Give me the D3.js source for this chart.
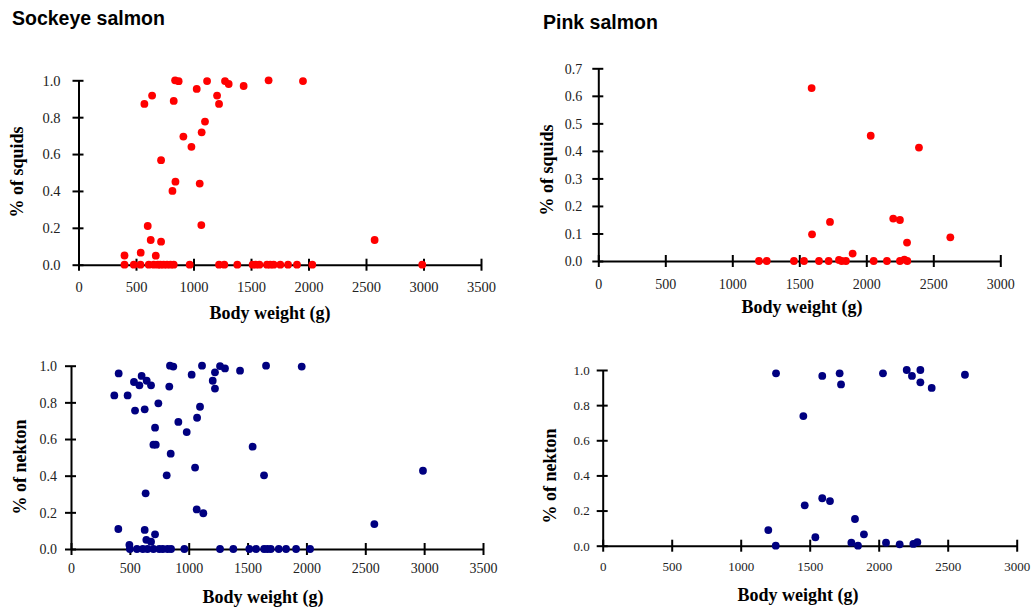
<!DOCTYPE html>
<html><head><meta charset="utf-8">
<script src="https://cdn.jsdelivr.net/npm/d3@7"></script>
<style>body{margin:0;background:#fff}svg{display:block}
.tk{font-family:'Liberation Serif','Times New Roman',serif !important;fill:#222}</style>
</head><body>
<svg id="c" width="1032" height="609"></svg>
<script>
// ---- data ----
const titles = ["Sockeye salmon", "Pink salmon"];
const yTitles = ["% of squids", "% of nekton"];
const xTitle = "Body weight (g)";

const sockeyeSquidW = [400,400,481,539,541,573,602,611,628,640,654,672,690,712,718,718,740,770,800,817,828,828,843,840,871,912,967,982,1028,1054,1068,1071,1100,1118,1205,1222,1222,1268,1274,1306,1381,1436,1514,1540,1573,1639,1653,1668,1697,1755,1822,1900,1952,2033,2575,2989];
const sockeyeSquidP = [0.05,0,0,0,0.065,0.872,0.21,0,0.134,0.917,0,0.049,0,0,0.125,0.567,0,0,0,0.40,0,0.888,0.45,1.0,0.995,0.695,0,0.639,0.953,0.44,0.215,0.718,0.776,0.996,0.917,0.872,0,0,0.996,0.98,0,0.969,0,0,0,0,1.0,0,0,0,0,0,0.996,0,0.134,0];

const sockeyeNektonW = [368,405,402,481,496,500,535,544,560,581,600,610,626,626,634,643,640,650,680,680,700,700,714,720,714,742,750,780,813,820,835,841,847,850,869,912,963,983,1025,1054,1068,1071,1096,1113,1124,1204,1223,1223,1266,1266,1308,1379,1436,1515,1543,1572,1640,1640,1657,1668,1697,1765,1827,1912,1960,2031,2577,2990];
const sockeyeNektonP = [0.838,0.958,0.109,0.838,0.023,0,0.911,0.755,0,0.893,0.944,0,0.762,0.104,0.304,0.918,0.05,0,0.893,0.04,0.569,0,0.662,0.569,0.08,0.795,0,0,0.402,0,0.886,1.0,0.52,0,0.995,0.693,0,0.638,0.951,0.444,0.216,0.716,0.776,1.0,0.195,0.918,0.875,0.964,0.998,0,0.985,0,0.973,0,0.558,0,0.402,0,1.0,0,0,0,0,0,0.995,0,0.136,0.427];

const pinkSquidW = [1199,1257,1460,1535,1592,1595,1647,1719,1729,1796,1816,1848,1898,2033,2055,2154,2201,2251,2251,2284,2306,2304,2393,2627];
const pinkSquidP = [0,0,0,0,0.628,0.097,0,0,0.142,0.004,0,0,0.027,0.455,0,0,0.154,0.149,0,0.005,0,0.067,0.412,0.086];

const pinkNektonW = [1200,1254,1256,1454,1464,1541,1591,1591,1647,1717,1727,1802,1850,1828,1893,2031,2053,2152,2203,2241,2302,2302,2251,2280,2384,2625];
const pinkNektonP = [0.089,0,0.981,0.738,0.23,0.048,0.966,0.27,0.254,0.981,0.918,0.017,0,0.152,0.065,0.981,0.017,0.008,1.0,0.966,1.0,0.93,0.01,0.02,0.898,0.973];

const xTicksSockeye = [0,500,1000,1500,2000,2500,3000,3500];
const xTicksPink = [0,500,1000,1500,2000,2500,3000];
const yTicksFull = [0,0.2,0.4,0.6,0.8,1.0];
const yTicksPinkSquid = [0,0.1,0.2,0.3,0.4,0.5,0.6,0.7];

// ---- drawing ----
const svg = d3.select("#c");
const SERIF = "'Liberation Serif','Times New Roman',serif";
const SANS = "'Liberation Sans',Arial,sans-serif";

svg.append("text").attr("x",12).attr("y",25).style("font-family",SANS).style("font-weight","bold")
  .style("font-size","19.5px").text(titles[0]);
svg.append("text").attr("x",543).attr("y",29).style("font-family",SANS).style("font-weight","bold")
  .style("font-size","19.5px").text(titles[1]);

function panel(o){
  const x = d3.scaleLinear().domain([0, o.xmax]).range([o.x0, o.x1]);
  const y = d3.scaleLinear().domain([0, o.ymax]).range([o.y0, o.y1]);
  const g = svg.append("g");

  const xa = g.append("g").attr("transform",`translate(0,${o.y0})`)
    .call(d3.axisBottom(x).tickValues(o.xticks).tickSizeOuter(0).tickFormat(d3.format("d")));
  xa.attr("font-family",null).attr("font-size",null);
  xa.select(".domain").attr("stroke","#000").attr("stroke-width",2);
  xa.selectAll(".tick line").attr("y1",-6).attr("y2",6).attr("stroke","#000").attr("stroke-width",2);
  xa.selectAll(".tick text").attr("class","tk").attr("y",o.xlabDy).attr("dy",null)
    .style("font-size",o.fs+"px");

  const ya = g.append("g").attr("transform",`translate(${o.x0},0)`)
    .call(d3.axisLeft(y).tickValues(o.yticks).tickSizeOuter(0).tickFormat(d3.format(".1f")));
  ya.attr("font-family",null).attr("font-size",null);
  ya.select(".domain").attr("stroke","#000").attr("stroke-width",2);
  ya.selectAll(".tick line").attr("x1",-6).attr("x2",5).attr("stroke","#000").attr("stroke-width",2);
  ya.selectAll(".tick text").attr("class","tk").attr("x",-o.ylabDx).attr("dy","0.34em")
    .style("font-size",o.fs+"px");

  g.append("text").attr("x",o.xtX).attr("y",o.xtY).attr("text-anchor","middle")
    .style("font-family",SERIF).style("font-weight","bold").style("font-size","18px").text(xTitle);
  g.append("text").attr("transform",`translate(${o.ytX},${o.ytY}) rotate(-90)`).attr("text-anchor","middle")
    .style("font-family",SERIF).style("font-weight","bold").style("font-size","18px").text(o.ytitle);

  g.append("g").selectAll("circle").data(o.w).join("circle")
    .attr("cx",d=>x(d)).attr("cy",(d,i)=>y(o.p[i])).attr("r",3.9).attr("fill",o.color);
}

panel({x0:78.5,x1:481,y0:264.7,y1:80.3,xmax:3500,ymax:1.0,xticks:xTicksSockeye,yticks:yTicksFull,
  w:sockeyeSquidW,p:sockeyeSquidP,color:"#ff0000",fs:14.5,xlabDy:27,ylabDx:18,
  xtX:270,xtY:319,ytX:23,ytY:172,ytitle:yTitles[0]});
panel({x0:598.3,x1:1000.3,y0:261,y1:68.3,xmax:3000,ymax:0.7,xticks:xTicksPink,yticks:yTicksPinkSquid,
  w:pinkSquidW,p:pinkSquidP,color:"#ff0000",fs:14,xlabDy:28,ylabDx:16,
  xtX:802,xtY:313,ytX:553,ytY:170,ytitle:yTitles[0]});
panel({x0:71,x1:483,y0:549,y1:365.7,xmax:3500,ymax:1.0,xticks:xTicksSockeye,yticks:yTicksFull,
  w:sockeyeNektonW,p:sockeyeNektonP,color:"#000080",fs:14,xlabDy:24,ylabDx:14,
  xtX:263,xtY:603,ytX:26,ytY:467,ytitle:yTitles[1]});
panel({x0:602.7,x1:1016.7,y0:545.7,y1:370,xmax:3000,ymax:1.0,xticks:xTicksPink,yticks:yTicksFull,
  w:pinkNektonW,p:pinkNektonP,color:"#000080",fs:13,xlabDy:25,ylabDx:13,
  xtX:798,xtY:601,ytX:556,ytY:476,ytitle:yTitles[1]});
</script>
</body></html>
